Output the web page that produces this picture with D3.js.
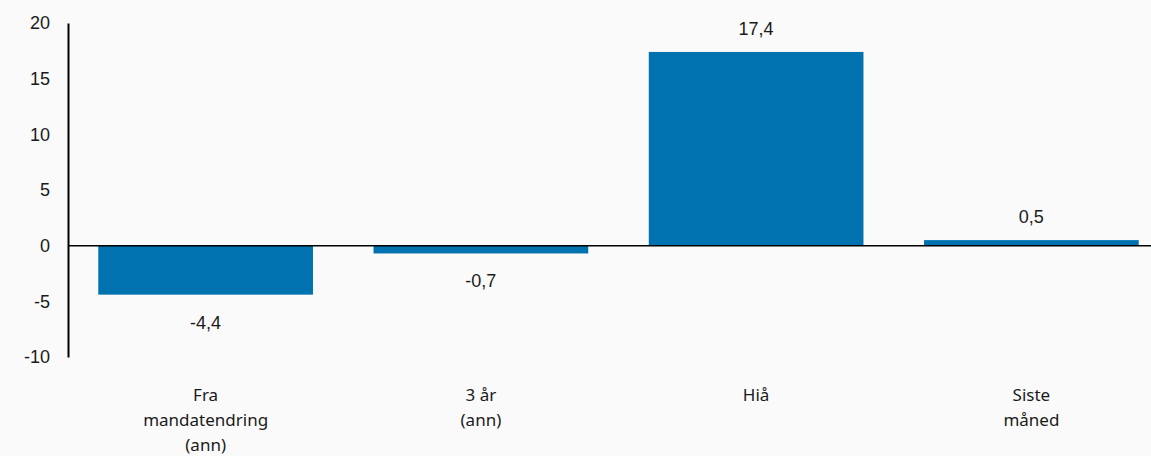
<!DOCTYPE html>
<html>
<head>
<meta charset="utf-8">
<script src="https://cdn.jsdelivr.net/npm/d3@7"></script>
<style>
  body { margin: 0; background: #fafafa; }
  text { font-family: "Liberation Sans", Arial, sans-serif; fill: #1a1a1a; }
</style>
</head>
<body>
<div id="chart"></div>
<script>
// Data
const categories = [["Fra", "mandatendring", "(ann)"], ["3 år", "(ann)"], ["Hiå"], ["Siste", "måned"]]
const values = [-4.4, -0.7, 17.4, 0.5]
const yTicks = [-10, -5, 0, 5, 10, 15, 20]

const width = 1151
const height = 456

const svg = d3.select("#chart")
    .append("svg")
    .attr("width", width)
    .attr("height", height)

const y = d3.scaleLinear()
    .domain([-10, 20])
    .range([357, 23])

const x = d3.scaleBand()
    .domain(d3.range(values.length))
    .range([68, 1169])
    .paddingInner(0.22)
    .paddingOuter(0.11)

// Bars
svg.selectAll("rect.bar")
    .data(values)
    .enter()
    .append("rect")
    .attr("class", "bar")
    .attr("x", (d, i) => x(i))
    .attr("width", x.bandwidth())
    .attr("y", d => y(Math.max(0, d)))
    .attr("height", d => Math.abs(y(d) - y(0)))
    .attr("fill", "#0072b0")

// Zero line
svg.append("line")
    .attr("x1", 68).attr("x2", width)
    .attr("y1", y(0)).attr("y2", y(0))
    .attr("stroke", "#000")
    .attr("stroke-width", 1.5)

// Y axis
const yAxis = svg.append("g")
    .attr("transform", "translate(68,0)")
    .call(d3.axisLeft(y).tickValues(yTicks).tickSize(0).tickPadding(18)
        .tickFormat(d => String(d)))
yAxis.select(".domain").attr("stroke", "#000").attr("stroke-width", 2)
yAxis.selectAll("text")
    .style("font-size", "18px")
    .attr("fill", "#1a1a1a")

// Value labels
const fmt = d => d.toFixed(1).replace(".", ",")
svg.selectAll("text.val")
    .data(values)
    .enter()
    .append("text")
    .attr("class", "val")
    .attr("x", (d, i) => x(i) + x.bandwidth() / 2)
    .attr("y", d => d >= 0 ? y(d) - 17 : y(d) + 34)
    .attr("text-anchor", "middle")
    .style("font-size", "18px")
    .text(fmt)

// Category labels
const cat = svg.selectAll("text.cat")
    .data(categories)
    .enter()
    .append("text")
    .attr("class", "cat")
    .attr("text-anchor", "middle")
    .style("font-size", "17px")
    .style("font-family", "'Noto Sans', sans-serif")
    .attr("transform", (d, i) => `translate(${x(i) + x.bandwidth() / 2},401)`)

cat.selectAll("tspan")
    .data(d => d)
    .enter()
    .append("tspan")
    .attr("x", 0)
    .attr("dy", (d, i) => i === 0 ? 0 : 25)
    .text(d => d)
</script>
</body>
</html>
